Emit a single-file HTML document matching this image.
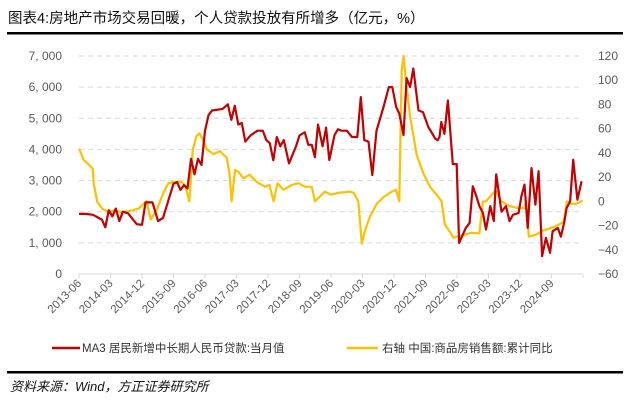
<!DOCTYPE html>
<html><head><meta charset="utf-8"><style>
body{margin:0;background:#fff;}
svg{display:block;font-family:"Liberation Sans","Noto Sans CJK SC",sans-serif;}
</style></head><body>
<svg id="chart" width="630" height="404" viewBox="0 0 630 404">
<text x="8" y="23" font-size="14.5" fill="#111">图表4:房地产市场交易回暖，个人贷款投放有所增多（亿元，%）</text>
<rect x="7" y="32" width="616" height="2.5" fill="#000"/>
<rect x="7" y="371" width="616" height="2.5" fill="#000"/>
<text x="10" y="391" font-size="13" font-style="italic" fill="#111">资料来源：Wind，方正证券研究所</text>
<g id="grid"></g><g id="axes"></g><g id="series"></g>
<g>
<line x1="52" y1="348" x2="80" y2="348" stroke="#C00000" stroke-width="2.5"/>
<text x="82" y="352" font-size="11.5" fill="#333">MA3 居民新增中长期人民币贷款:当月值</text>
<line x1="347" y1="348" x2="378" y2="348" stroke="#FFC000" stroke-width="2.5"/>
<text x="382" y="352" font-size="11.5" fill="#333">右轴 中国:商品房销售额:累计同比</text>
</g>
</svg>
<script>
const xTickLabels=["2013-06","2014-03","2014-12","2015-09","2016-06","2017-03","2017-12","2018-09","2019-06","2020-03","2020-12","2021-09","2022-06","2023-03","2023-12","2024-09"];
const leftTicks=[0,1000,2000,3000,4000,5000,6000,7000];
const rightTicks=[-60,-40,-20,0,20,40,60,80,100,120];
// month offsets from 2013-06
const redMonths=[0,2,4,6,6.5,7.5,8.5,9.5,10.5,11.5,12.5,14,16.5,18,19,21,22.6,24,27,28,29,30,31,32,33,34,35,36,37,38,41,42.5,43.5,44.5,45.5,46.5,47.5,49,51,52.5,53.5,54.5,55.5,56.5,57.5,58.5,60,62,63,64.5,65.5,66.5,67.4,68.3,69.6,70.6,71.5,73,74,75,76.5,78,79.5,80.5,81.5,82.7,83.8,85,87,88.5,89.5,90.6,91.5,92.7,93.6,94.6,95.5,97,98.3,99.8,101,101.8,102.5,103,103.5,104.4,105.4,106.8,107.9,108.6,110.5,111.6,112.5,113.5,114.4,115.4,116.3,117.5,118.5,119.2,120.7,122,123,124,125.6,126.4,127.3,128.2,129.3,130.4,131.3,132.3,133.4,134.6,135.3,136.8,137.7,138.6,139.3,140.3,141.2,142.4,143.6];
const redValues=[1930,1930,1900,1780,1750,1500,2050,1850,2100,1700,2000,1950,1600,1580,2300,2300,1700,1800,2900,2950,2700,2850,2750,3700,3200,3700,3500,4600,5100,5250,5300,5450,4950,5400,4800,4850,4250,4450,4600,4600,4300,4200,3650,4400,4100,4300,3550,4100,4450,4550,4150,4150,3750,4800,4100,4700,3660,4460,4650,4600,4600,4400,4400,5680,4300,4250,3180,4600,5360,6000,6000,5370,5150,4460,6290,6000,6600,5250,5200,4720,4500,4340,4300,4400,4880,4500,5570,3530,3530,1000,1480,1640,2820,2500,2180,1960,1430,2180,1700,3200,2000,2180,1700,1900,1960,2500,2870,1480,3400,2230,3300,570,1160,680,1370,1480,1200,1640,2120,2330,3670,2390,2980,890,1530];
const yelMonths=[0,1.4,2.9,3.9,4.2,5.2,6.6,8.5,9.9,12.3,15.2,17,19.3,20.5,22.2,24.1,25.5,27,29.3,30.3,31.5,32.5,33.6,34.4,35.4,36.5,38.4,40.3,42.2,43,43.6,44.6,45.5,47,48.7,50.8,53.2,54.4,55.6,56.7,58.4,60.8,62.7,64.6,66.5,67.4,70.3,72,74,77.4,78.5,79.8,80.8,81.7,83.1,85.1,87,89.4,90.6,91.5,92.2,92.7,93.6,94.6,96.5,98.4,100.3,102.7,103.6,104.5,105.9,107,108.2,109.7,112,114.4,115.4,116.3,118.7,119.3,120.7,123,125.4,127.3,127.8,128.5,130.7,132.6,135.9,138.5,139.4,140.7,142.1,143.9];
const yelValues=[43.5,34,30,27,15,-0.5,-6,-9,-7.5,-9,-7.5,-6,0,-15,-7,7,15,16,16,13,0,43,54,56,51,43,39,41.5,36,23,0,26,24.5,19,22,16,12,13.5,0,15,9.5,13.5,15,12,12,0,8,5.5,7,8,7,0,-35,-24,-13,-2,3.5,8,9.5,0,108,120,94,70,38,23,12,3.5,0,-19,-25,-30,-29,-28,-26,-26.5,0,0,8,8,0,-4,-5.5,-5.5,0,-29,-27.5,-24,-21,-17,0,-2,-2,0.5];

const NS="http://www.w3.org/2000/svg";
const X0=79,X1=583,Ytop=56,Ybot=274,months=144;
const xs=m=>X0+(X1-X0)*m/months;
const yl=v=>Ybot-(v/7000)*(Ybot-Ytop);
const yr=v=>Ybot-((v+60)/180)*(Ybot-Ytop);
function mk(tag,attrs,parent){const e=document.createElementNS(NS,tag);for(const k in attrs)e.setAttribute(k,attrs[k]);parent.appendChild(e);return e;}
const grid=document.getElementById('grid'),axes=document.getElementById('axes'),ser=document.getElementById('series');
leftTicks.forEach((t,i)=>{
  const y=yl(t);
  if(t>0){const g=mk('line',{x1:X0,x2:X1,y1:y,y2:y,stroke:'#d9d9d9','stroke-dasharray':'5,4','stroke-width':1},grid);
  
  }
  const tx=mk('text',{x:62,y:y+4,'font-size':12,fill:'#595959','text-anchor':'end'},axes);
  tx.textContent=t.toLocaleString('en-US').replace(',',', ');
  
  
});
rightTicks.forEach(t=>{
  const tx=mk('text',{x:598,y:yr(t)+4,'font-size':12,fill:'#595959'},axes);
  tx.textContent=t<0?'\u2212'+(-t):String(t);
  
  
});
const ax=mk('line',{x1:X0,x2:X1,y1:Ybot,y2:Ybot,stroke:'#d9d9d9','stroke-width':1},axes);


for(let m=0;m<=months;m+=9){
  const x=xs(m);
  const tk=mk('line',{x1:x,x2:x,y1:Ybot,y2:Ybot+4,stroke:'#d9d9d9'},axes);
  
  
}
xTickLabels.forEach((l,i)=>{
  const x=xs(i*9)+3,y=Ybot+10;
  const tx=mk('text',{x:x,y:y,'font-size':11.5,fill:'#595959','text-anchor':'end',transform:`rotate(-45 ${x} ${y})`},axes);
  tx.textContent=l;
  
  
});
function line(ms,vs,yf,color,name){
  const d=ms.map((m,i)=>(i?'L':'M')+xs(m).toFixed(1)+','+Math.max(Ytop,yf(vs[i])).toFixed(1)).join('');
  const p=mk('path',{d:d,fill:'none',stroke:color,'stroke-width':2.2,'stroke-linejoin':'round'},ser);
  
  
}
line(yelMonths,yelValues,yr,'#FFC000','sales-yoy-line');
line(redMonths,redValues,yl,'#C00000','household-loans-line');
</script>
</body></html>
